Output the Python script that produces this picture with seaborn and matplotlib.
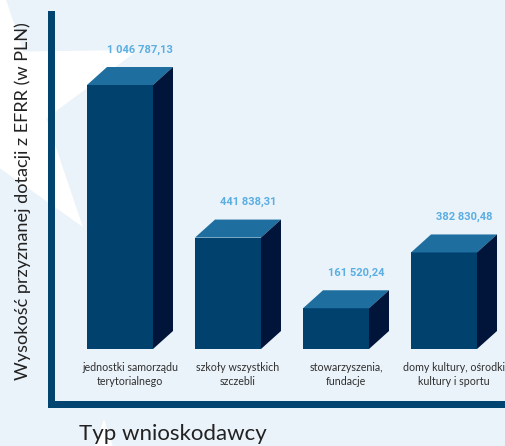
import numpy as np
import pandas as pd
import seaborn as sns
import matplotlib
matplotlib.use("Agg")
import matplotlib.pyplot as plt
from matplotlib.patches import Polygon

# --- data -------------------------------------------------------------
categories = [
    "jednostki samorządu\nterytorialnego",
    "szkoły wszystkich\nszczebli",
    "stowarzyszenia,\nfundacje",
    "domy kultury, ośrodki\nkultury i sportu",
]
grants = [1046787.13, 441838.31, 161520.24, 382830.48]

x_title = "Typ wnioskodawcy"
y_title = "Wysokość przyznanej dotacji z EFRR (w PLN)"

# --- colours ----------------------------------------------------------
BG = "#EBF3FA"
FRAME = "#00446F"
FRONT = "#00416E"
TOP = "#1E6FA0"
SIDE = "#001539"
VALUE = "#5AAEE2"
TEXT = "#2E2E2E"

W, H, DPI = 505, 446, 100

sns.set_theme(style="white")
plt.rcParams["font.family"] = ["Lato", "DejaVu Sans"]

fig = plt.figure(figsize=(W / DPI, H / DPI), dpi=DPI, facecolor=BG)


def px(x, y):
    return (x / W, 1 - y / H)


def star(cx, cy, R, tip_deg):
    r = R * 0.382
    pts = []
    for k in range(10):
        ang = np.deg2rad(tip_deg + 36 * k)
        rad = R if k % 2 == 0 else r
        pts.append(px(cx + rad * np.cos(ang), cy + rad * np.sin(ang)))
    return pts


# faint white stars in the backdrop
for verts in (star(-11.3, 100.6, 157.6, -18.7), star(104, 619, 200, -90)):
    fig.add_artist(Polygon(verts, closed=True, transform=fig.transFigure,
                           facecolor="white", edgecolor="none", zorder=-5))

# axes box: left spine at x~50px, bottom spine at y~404px
ax_l, ax_r, ax_t, ax_b = 50.5, 505, 14, 404
ax = fig.add_axes([ax_l / W, 1 - ax_b / H, (ax_r - ax_l) / W, (ax_b - ax_t) / H])
ax.set_facecolor("none")

df = pd.DataFrame({"typ": categories, "kwota": grants})
bar_w = 0.611
sns.barplot(data=df, x="typ", y="kwota", color=FRONT, saturation=1,
            width=bar_w, edgecolor="none", ax=ax, zorder=3)

# scales
ax.set_xlim(-0.6435, 3.5648)
ax.set_ylim(-218081, 1328308)

# depth of the 3-D faces in data units (20px right, 18px up)
px_x = (ax.get_xlim()[1] - ax.get_xlim()[0]) / (ax_r - ax_l)
px_y = (ax.get_ylim()[1] - ax.get_ylim()[0]) / (ax_b - ax_t)
dx, dy = 20 * px_x, 18 * px_y

for patch, val in zip(ax.patches, grants):
    x0 = patch.get_x()
    x1 = x0 + patch.get_width()
    h = patch.get_height()
    ax.add_patch(Polygon([(x0, h), (x1, h), (x1 + dx, h + dy), (x0 + dx, h + dy)],
                         closed=True, facecolor=TOP, edgecolor="none", zorder=3))
    ax.add_patch(Polygon([(x1, 0), (x1, h), (x1 + dx, h + dy), (x1 + dx, dy)],
                         closed=True, facecolor=SIDE, edgecolor="none", zorder=3))
    label = f"{val:,.2f}".replace(",", " ").replace(".", ",")
    ax.annotate(label, xy=((x0 + x1) / 2 + dx, h + dy), xytext=(0, 12.5),
                textcoords="offset points", ha="center", va="center",
                fontsize=8, fontweight="bold", color=VALUE,
                family=["Roboto", "DejaVu Sans"])

# category labels sit inside the frame, under the bars
ax.set_xticks(np.arange(len(categories)) + dx / 2)
ax.set_xticklabels(categories, fontsize=7.7, color=TEXT, linespacing=1.4)
ax.tick_params(axis="x", length=0, pad=-30.5)
ax.set_yticks([])

ax.set_xlabel(x_title, fontsize=16, color="#222222", fontweight="normal",
              ha="left", va="center")
ax.xaxis.set_label_coords((79 - ax_l) / (ax_r - ax_l), (ax_b - 434) / (ax_b - ax_t))
ax.set_ylabel(y_title, fontsize=13.1, color="#222222", fontweight="normal",
              va="center", ha="center")
ax.yaxis.set_label_coords((23 - ax_l) / (ax_r - ax_l), (ax_b - 201) / (ax_b - ax_t))

for side in ("top", "right"):
    ax.spines[side].set_visible(False)
for side in ("left", "bottom"):
    ax.spines[side].set_color(FRAME)
    ax.spines[side].set_linewidth(7 * 72 / DPI)
    ax.spines[side].set_capstyle("projecting")

fig.savefig("out.png", dpi=DPI, facecolor=BG)
